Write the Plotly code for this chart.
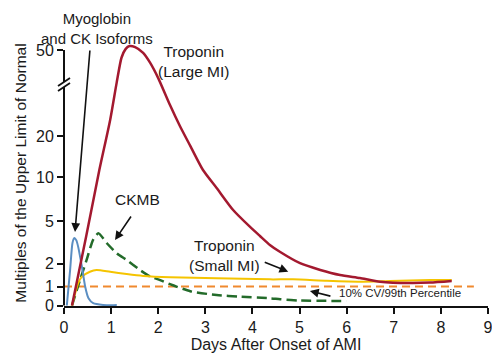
import numpy as np
import plotly.graph_objects as go

# ---- axis scale (broken, non-linear y axis) ----
tick_values = [0, 1, 2, 5, 10, 20, 50]
tick_labels = ["0", "1", "2", "5", "10", "20", "50"]
tick_positions = [0, 19, 42, 84.5, 128.5, 169.5, 255.5]

day_ticks = list(range(0, 10))

# ---- series (days after onset, multiples of ULN) ----
myo_days = [0.06, 0.13, 0.18, 0.22, 0.26, 0.30, 0.38, 0.45, 0.52, 0.62, 0.83, 1.12]
myo_vals = [0, 1.72, 3.45, 3.8, 3.65, 3.19, 1.86, 0.99, 0.38, 0.12, 0.03, 0.02]

tnl_days = [0.17, 0.47, 0.75, 0.98, 1.12, 1.22, 1.31, 1.39, 1.51, 1.68, 1.83, 2.0,
            2.25, 2.46, 2.68, 2.95, 3.24, 3.59, 3.95, 4.16, 4.37, 4.59, 5.01, 5.44,
            5.86, 6.28, 6.71, 7.35, 7.77, 8.23]
tnl_vals = [0, 3.9, 11.7, 25.6, 38.8, 47.3, 50.4, 51.4, 51.0, 49.0, 45.5, 40.2,
            30.8, 23.5, 17.6, 11.7, 8.75, 6.25, 4.58, 3.94, 3.31, 2.81, 2.02, 1.72,
            1.5, 1.37, 1.21, 1.15, 1.17, 1.24]

ckmb_days = [0.17, 0.34, 0.48, 0.62, 0.73, 0.91, 1.12, 1.33, 1.61, 1.83, 2.04, 2.25,
             2.68, 3.24, 3.74, 4.37, 4.59, 5.01, 6.0]
ckmb_vals = [0, 1.28, 2.25, 3.69, 4.13, 3.43, 2.72, 2.25, 1.72, 1.43, 1.28, 1.1,
             0.75, 0.55, 0.46, 0.38, 0.33, 0.26, 0.24]

tns_days = [0.17, 0.30, 0.38, 0.55, 0.69, 0.98, 1.33, 1.68, 2.25, 3.24, 4.37, 4.86,
            5.58, 6.28, 6.92, 7.77, 8.23]
tns_vals = [0, 1.14, 1.43, 1.64, 1.72, 1.64, 1.54, 1.46, 1.40, 1.36, 1.31, 1.31,
            1.25, 1.21, 1.24, 1.28, 1.28]

ref_days = [0, 8.7]
ref_vals = [1, 1]

# extend scale beyond 50 for values slightly above the top tick
_sv = tick_values + [100]
_sp = tick_positions + [tick_positions[-1] + 50 * (tick_positions[-1] - tick_positions[-2]) / 30]


def scale(v):
    return np.interp(np.asarray(v, dtype=float), _sv, _sp)


FONT = "Liberation Sans, Arial, Helvetica, sans-serif"
INK = "#1a1a1a"

fig = go.Figure()


def add(days, vals, color, width, dash=None):
    fig.add_trace(go.Scatter(
        x=days, y=scale(vals), mode="lines",
        line=dict(color=color, width=width, dash=dash, shape="spline", smoothing=0.6),
        hoverinfo="skip", showlegend=False))


add(ref_days, ref_vals, "#F0892E", 2, "8px,5px")
add(ckmb_days, ckmb_vals, "#236B2A", 2.5, "10px,5px")
add(tns_days, tns_vals, "#F5C400", 2)
add(myo_days, myo_vals, "#5B8EC2", 2)
add(tnl_days, tnl_vals, "#A3192F", 2.5)

ann = []


def label(x, y, text, size=15.5, xanchor="center", xref="x", yref="y", yanchor="middle"):
    ann.append(dict(x=x, y=y, xref=xref, yref=yref, text=text, showarrow=False,
                    font=dict(size=size, color=INK, family=FONT), xanchor=xanchor,
                    yanchor=yanchor, align="center"))


def arrow(x, y, ax, ay):
    ann.append(dict(x=x, y=y, xref="x", yref="y", text="", showarrow=True,
                    ax=ax, ay=ay, arrowhead=2, arrowsize=1.1, arrowwidth=1.6,
                    arrowcolor="#111111"))


PH = 266.0  # plot-area height in px
label(33 / 424, 1 + 32 / PH, "Myoglobin<br>and CK Isoforms", size=15,
      xref="paper", yref="paper", yanchor="top")
label(2.76, 244, "Troponin<br>(Large MI)")
label(1.57, 106.5, "CKMB")
label(3.40, 50.5, "Troponin<br>(Small MI)")
label(5.80, 12.2, "10% CV/99th Percentile", size=11.5, xanchor="left")
arrow(0.234, 73.5, 15, -183)
arrow(1.083, 65.5, 17, -25)
arrow(4.76, 33.8, -25, -10)
arrow(5.22, 14.5, 22, 5.5)

W = 424.0
shapes = [
    dict(type="line", xref="paper", yref="y", x0=0, x1=0, y0=0, y1=218.5,
         line=dict(color="#111", width=2)),
    dict(type="line", xref="paper", yref="y", x0=0, x1=0, y0=223.5, y1=255.5,
         line=dict(color="#111", width=2)),
    dict(type="line", xref="paper", yref="y", x0=-6 / W, x1=6 / W, y0=214.5, y1=222.5,
         line=dict(color="#111", width=1.8)),
    dict(type="line", xref="paper", yref="y", x0=-6 / W, x1=6 / W, y0=219.5, y1=227.5,
         line=dict(color="#111", width=1.8)),
]

# page body has an 8px default margin, so the figure is sized to fit the window
fig.update_layout(
    width=492, height=353,
    margin=dict(l=56, r=12, t=32, b=55),
    paper_bgcolor="white", plot_bgcolor="white",
    annotations=ann, shapes=shapes,
    font=dict(family=FONT, color=INK, size=15),
    xaxis=dict(range=[0, 9], tickvals=day_ticks, ticks="outside", ticklen=6, tickwidth=1.5,
               tickcolor="#111", showline=True, linecolor="#111", linewidth=2,
               showgrid=False, zeroline=False, tickfont=dict(size=16), automargin=False,
               title=dict(text="Days After Onset of AMI", font=dict(size=16), standoff=2)),
    yaxis=dict(range=[-0.5, 265.5], tickvals=tick_positions, ticktext=tick_labels,
               ticks="outside", ticklen=6, tickwidth=1.5, tickcolor="#111",
               showline=False, showgrid=False, zeroline=False, tickfont=dict(size=16),
               automargin=False,
               title=dict(text="Multiples of the Upper Limit of Normal", font=dict(size=15.5),
                          standoff=5)),
)

fig.write_html("out.html")
